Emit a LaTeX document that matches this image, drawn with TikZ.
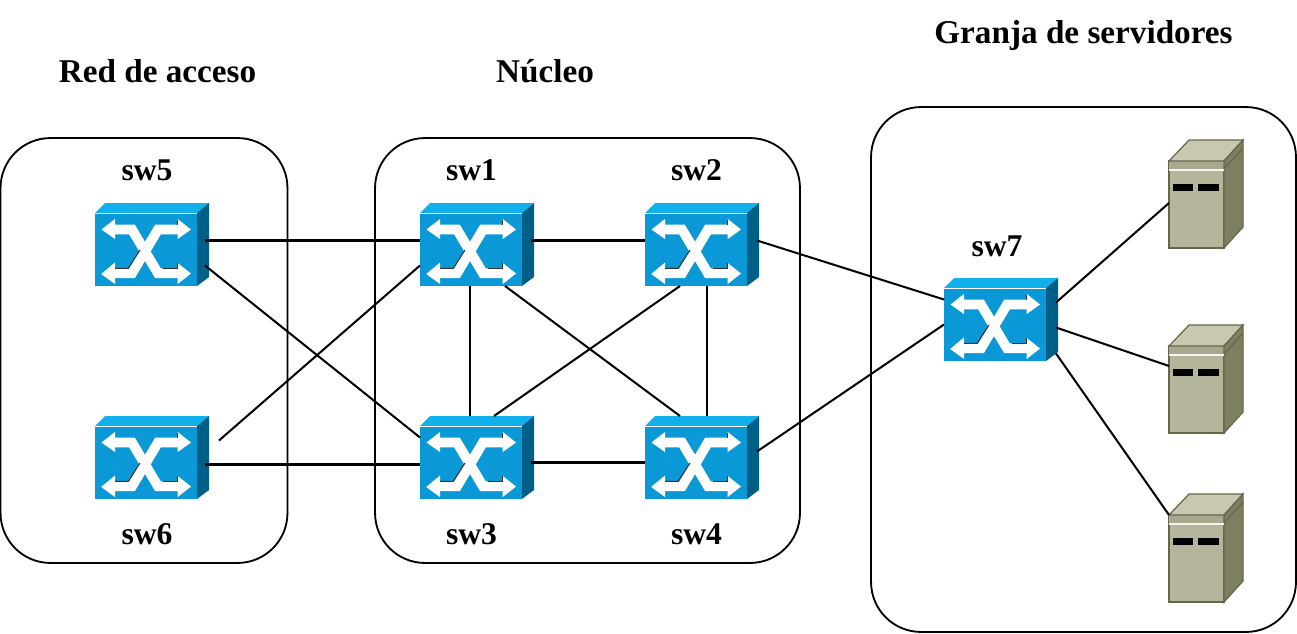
\documentclass[tikz,border=0pt]{standalone}
\usepackage{fontspec}
\setmainfont{Liberation Serif}
\usetikzlibrary{calc, positioning}

\definecolor{swfront}{HTML}{0A99D6}
\definecolor{swtop}{HTML}{10B0EA}
\definecolor{swside}{HTML}{005F86}
\definecolor{srvfront}{HTML}{B5B59C}
\definecolor{srvband}{HTML}{A8A88E}
\definecolor{srvtop}{HTML}{C8C8B0}
\definecolor{srvside}{HTML}{7E7E60}
\definecolor{srvedge}{HTML}{66664C}

\tikzset{
    zonebox/.style={draw, rounded corners=1cm, line width=1.05pt, inner sep=0pt},
    swbox/.style={anchor=north west, minimum width=2.28cm, minimum height=1.66cm, inner sep=0pt, outer sep=0pt},
    srvbox/.style={anchor=north west, minimum width=1.48cm, minimum height=2.16cm, inner sep=0pt, outer sep=0pt},
    swname/.style={font=\fontsize{18}{20}\selectfont\bfseries},
    zonename/.style={font=\fontsize{18.9}{21}\selectfont\bfseries},
    link/.style={line width=1.15pt},
    swarrow/.style={fill=white},
    swbar/.style={draw=white, line width=5.6pt, line join=miter},
    swshade/.style={draw=black!80, line width=0.6pt},
    srvline/.style={draw=srvedge, line width=0.7pt}
}

% Conmutador: nombre, esquina superior izquierda
\newcommand{\swicon}[3]{
    \node[swbox] (#1) at (#2,#3) {};
    \begin{scope}[shift={(#1.north west)}]
        \fill[swfront] (0,10) rectangle (102,83);
        \fill[swtop] (0,10) -- (10,0) -- (114,0) -- (102,10) -- cycle;
        \fill[swside] (102,10) -- (114,0) -- (114,74) -- (102,83) -- cycle;
        \draw[white, line width=0.4pt] (0,10) -- (102,10);
        % Aspa y flechas
        \draw[swbar] (19,26.5) -- (37,26.5) -- (63,70.3) -- (83,70.3);
        \draw[swbar] (19,70.3) -- (37,70.3) -- (63,26.5) -- (83,26.5);
        \fill[swarrow] (6.5,26.5) -- (20,16) -- (20,36) -- cycle;
        \fill[swarrow] (96,26.5) -- (82.7,16) -- (82.7,36) -- cycle;
        \fill[swarrow] (6.2,71) -- (20,59.5) -- (20,81) -- cycle;
        \fill[swarrow] (96,70.5) -- (82.7,60) -- (82.7,81) -- cycle;
        \draw[swshade] (82.7,16.5) -- (82.7,21.5);
        \draw[swshade] (82.7,60) -- (82.7,65.3) -- (68.3,65.3);
        \draw[swshade] (20,65.3) -- (33.3,65.3) -- (45,47);
    \end{scope}
}

% Servidor: nombre, esquina superior izquierda
\newcommand{\srvicon}[3]{
    \node[srvbox] (#1) at (#2,#3) {};
    \begin{scope}[shift={(#1.north west)}]
        \filldraw[fill=srvfront, srvline] (0,21) rectangle (55,108);
        \fill[srvband] (0,21) rectangle (55,29.5);
        \filldraw[fill=srvtop, srvline] (0,21) -- (20,0) -- (74,0) -- (55,21) -- cycle;
        \filldraw[fill=srvside, srvline] (55,21) -- (74,0) -- (74,87) -- (55,108) -- cycle;
        \draw[srvline] (55,29) -- (74,8);
        \draw[white!85!srvfront, line width=0.8pt] (0,30) -- (55,30);
        \fill[black] (4,44) rectangle (24,51);
        \fill[black] (29,44) rectangle (50,51);
    \end{scope}
}

\begin{document}
\begin{tikzpicture}[x=0.02cm, y=-0.02cm]
    \useasboundingbox (0,0) rectangle (1297,633);

    % Zonas
    \node[zonebox, minimum width=5.74cm, minimum height=8.5cm] (zacceso) at (144,350.5) {};
    \node[zonebox, minimum width=8.5cm, minimum height=8.5cm] (znucleo) at (587.5,350.5) {};
    \node[zonebox, minimum width=8.5cm, minimum height=10.5cm] (zgranja) at (1083.5,369.5) {};

    \node[zonename] (tacceso) at (157.5,71) {Red de acceso};
    \node[zonename] (tnucleo) at (545,71) {Núcleo};
    \node[zonename] (tgranja) at (1083.5,36) {Granja de servidores};

    % Conmutadores
    \swicon{sw5}{95}{203}
    \swicon{sw1}{420}{203}
    \swicon{sw2}{645}{203}
    \swicon{sw6}{95}{416}
    \swicon{sw3}{420}{416}
    \swicon{sw4}{645}{416}
    \swicon{sw7}{944}{278}

    \node[swname] (nsw5) at (147,170) {sw5};
    \node[swname] (nsw1) at (471.5,170) {sw1};
    \node[swname] (nsw2) at (696.5,170) {sw2};
    \node[swname] (nsw6) at (147,534) {sw6};
    \node[swname] (nsw3) at (471.5,534) {sw3};
    \node[swname] (nsw4) at (696.5,534) {sw4};
    \node[swname] (nsw7) at (997,246) {sw7};

    % Servidores
    \srvicon{srv1}{1169}{140}
    \srvicon{srv2}{1169}{325}
    \srvicon{srv3}{1169}{494}

    % Enlaces
    \coordinate (fin6) at ($(sw6.east)+(10,-17)$);
    \draw[link] ($(sw5.east)+(-4,-4)$) -- ($(sw1.west)+(0,-4)$);
    \draw[link] ($(sw5.east)+(-4,21)$) -- ($(sw3.west)+(0,-20)$);
    \draw[link] (fin6) -- ($(sw1.west)+(0,21)$);
    \draw[link] ($(sw6.east)+(-4,7)$) -- ($(sw3.west)+(0,7)$);
    \draw[link] ($(sw1.east)+(-3,-4)$) -- ($(sw2.west)+(0,-4)$);
    \draw[link] ($(sw3.east)+(-3,5)$) -- ($(sw4.west)+(0,5)$);
    \draw[link] ($(sw1.south)+(-7,0)$) -- ($(sw3.north)+(-7,0)$);
    \draw[link] ($(sw2.south)+(5,0)$) -- ($(sw4.north)+(5,0)$);
    \draw[link] ($(sw1.south)+(28,0)$) -- ($(sw4.north)+(-22,0)$);
    \draw[link] ($(sw2.south)+(-22,0)$) -- ($(sw3.north)+(17,0)$);
    \draw[link] ($(sw2.east)+(-2,-4)$) -- ($(sw7.west)+(0,-20)$);
    \draw[link] ($(sw4.east)+(-2,-6)$) -- ($(sw7.west)+(0,5)$);
    \draw[link] ($(sw7.east)+(-2,-17)$) -- ($(srv1.west)+(0,9)$);
    \draw[link] ($(sw7.east)+(-2,8)$) -- ($(srv2.west)+(0,-13)$);
    \draw[link] ($(sw7.east)+(-2,34)$) -- ($(srv3.west)+(0,-33)$);
\end{tikzpicture}
\end{document}
